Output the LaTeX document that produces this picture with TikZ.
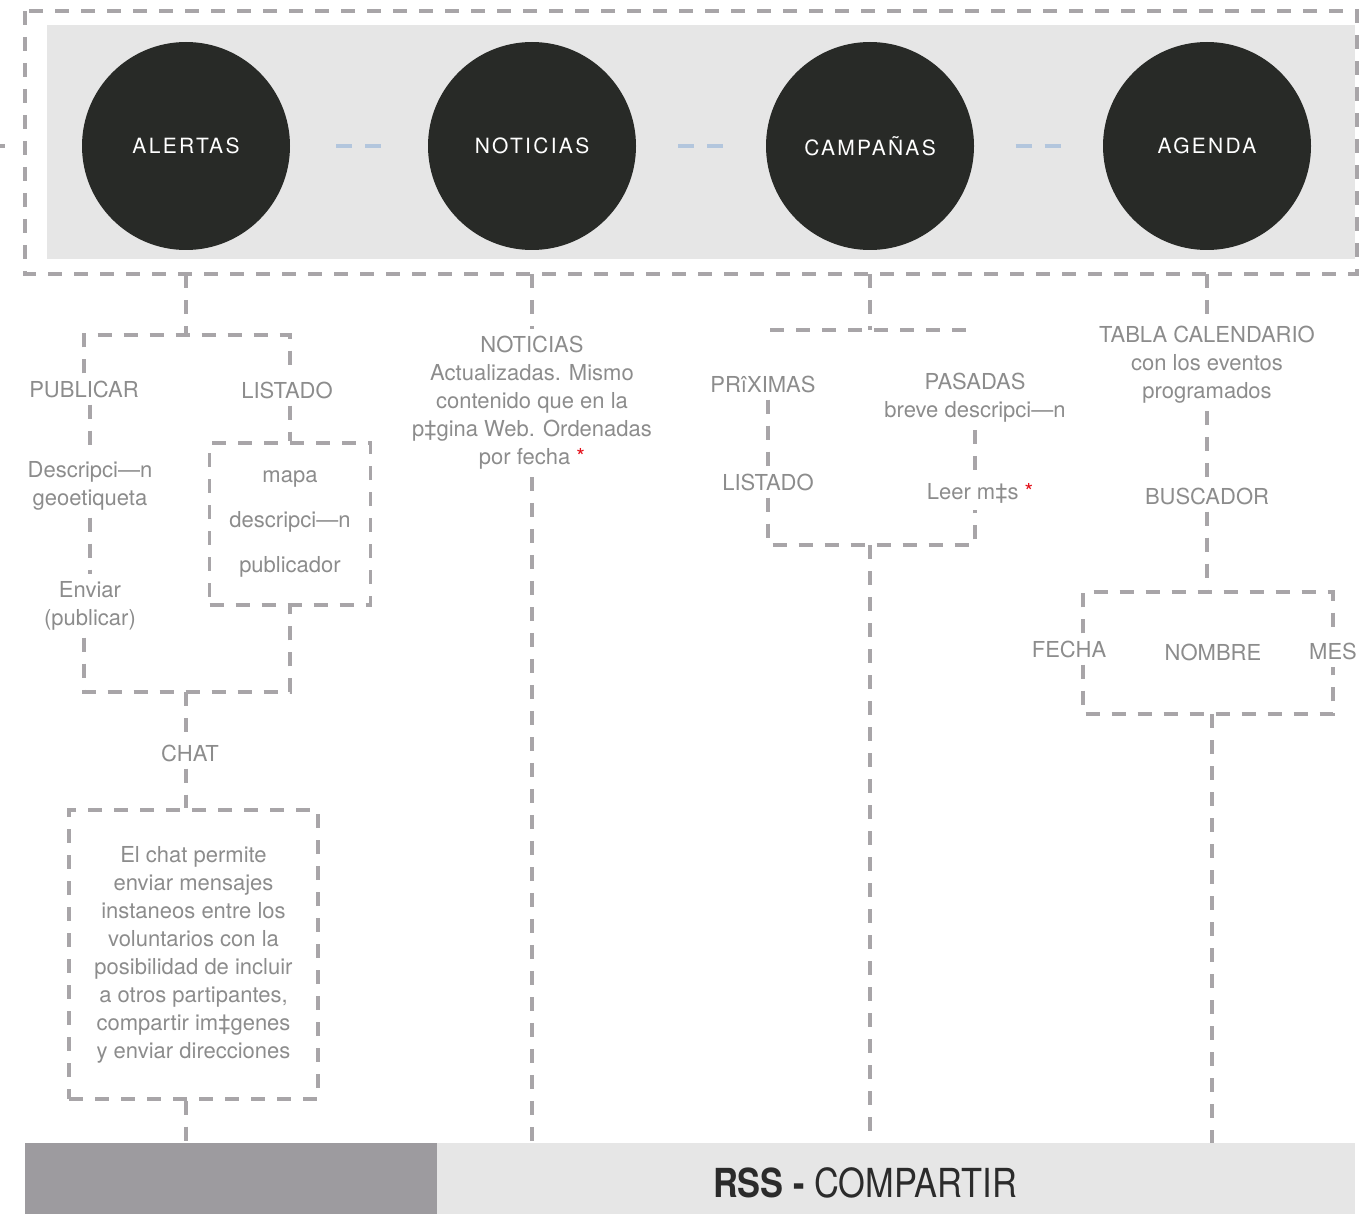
\documentclass[tikz,border=0pt]{standalone}
\usepackage{fontspec}
\usepackage{graphicx}
\setmainfont{TeX Gyre Heros}
\usetikzlibrary{positioning,calc}
\definecolor{linegray}{HTML}{A8A5A8}
\definecolor{textgray}{HTML}{8C8C8C}
\definecolor{bandgray}{HTML}{E6E6E6}
\definecolor{bardark}{HTML}{9D9B9F}
\definecolor{hubdark}{HTML}{282A27}
\definecolor{hubline}{HTML}{B3C6DD}
\definecolor{rssdark}{HTML}{2B2B2B}
\definecolor{starred}{HTML}{E3101A}
\newcommand{\redstar}{\textcolor{starred}{*}}

\begin{document}
\begin{tikzpicture}[x=1pt,y=1pt,line cap=butt,every node/.style={inner sep=1pt},
  link/.style={draw=linegray,line width=3.2pt,dash pattern=on 14pt off 12pt},
  hubdash/.style={draw=hubline,line width=3.5pt,dash pattern=on 16pt off 13pt},
  lbl/.style={text=textgray,font=\fontsize{22}{28}\selectfont,align=center,inner sep=7pt},
  hub/.style={circle,fill=hubdark,minimum size=208pt,inner sep=0pt,text=white,
    font=\fontsize{21}{25}\selectfont\addfontfeature{LetterSpace=11}},
  framebox/.style={lbl,link,rectangle,inner sep=1pt}]
  \useasboundingbox (0,0) rectangle (1370,-1214);
  % top band with the four sections
  \fill[bandgray] (47,-25) rectangle (1355,-259);
  \draw[link] (25,-11) rectangle (1357,-274);
  \coordinate (leftEnd) at (0,-146);
  \coordinate (leftStub) at (5,-146);
  \draw[linegray,line width=3.2pt] (leftEnd) -- (leftStub);
  \coordinate (topBase) at (0,-274);
  \foreach \nm/\xx/\txt in {alertas/186/ALERTAS,noticias/532/NOTICIAS,campanas/870/CAMPAÑAS,agenda/1207/AGENDA}
    \node[hub] (\nm) at (\xx,-146) {\txt};
  \foreach \a/\b in {alertas/noticias,noticias/campanas,campanas/agenda}
    \draw[hubdash] ($(\a.east)!0.5!(\b.west)+(-23,0)$) -- ($(\a.east)!0.5!(\b.west)+(23,0)$);

  % RSS bar
  \node[fill=bardark,minimum width=412pt,minimum height=71pt,anchor=north west,inner sep=0pt] (rssside) at (25,-1143) {};
  \node[fill=bandgray,minimum width=918pt,minimum height=71pt,anchor=north west,inner sep=0pt] (rssbar) at (437,-1143) {};
  \node[font=\fontsize{40}{40}\selectfont,text=rssdark] (rss) at (865,-1183) {\scalebox{0.86}[1]{\textbf{RSS -} COMPARTIR}};

  % alertas
  \coordinate (aSplit) at (186,-335);
  \coordinate (aJoin) at (186,-692);
  \node[lbl] (publicar) at (84,-389) {PUBLICAR};
  \node[lbl] (listado) at (287,-390) {LISTADO};
  \node[lbl] (descr) at (90,-486) {Descripci—n\\geoetiqueta};
  \node[lbl] (enviar) at (90,-606) {Enviar\\(publicar)};
  \node[framebox,minimum width=161pt,minimum height=162pt,font=\fontsize{22}{45}\selectfont] (mapbox) at (290,-524) {mapa\\descripci—n\\publicador};
  \node[lbl] (chat) at (190,-753) {CHAT};
  \node[framebox,minimum width=249pt,minimum height=289pt] (chatbox) at (193.5,-954.5) {El chat permite\\enviar mensajes\\instaneos entre los\\voluntarios con la\\posibilidad de incluir\\a otros partipantes,\\compartir im‡genes\\y enviar direcciones};
  \draw[link] (alertas |- topBase) -- (aSplit);
  \draw[link] (publicar.north) -- (publicar.north |- aSplit) -- (mapbox.north |- aSplit) -- (mapbox.north |- listado.north);
  \draw[link] (descr.north |- publicar.south) -- (descr.north);
  \draw[link] (descr.south) -- (enviar.north);
  \draw[link] (enviar.south -| publicar) |- (aJoin) -| (mapbox.south);
  \draw[link] (mapbox.north |- listado.south) -- (mapbox.north);
  \draw[link] (aJoin) -- (chat.north -| aJoin);
  \draw[link] (chat.south -| aJoin) -- (chatbox.north -| aJoin);
  \draw[link] (chatbox.south -| aJoin) -- (aJoin |- rssside.north);

  % noticias
  \node[lbl] (notitext) at (532,-403) {NOTICIAS\\Actualizadas. Mismo\\contenido que en la\\p‡gina Web. Ordenadas\\por fecha \redstar};
  \draw[link] (noticias |- topBase) -- (notitext.north);
  \draw[link] (notitext.south) -- (notitext.south |- rssbar.north);

  % campanas
  \coordinate (cSplit) at (870,-330);
  \coordinate (cLeft) at (770,-330);
  \coordinate (cRight) at (972,-330);
  \coordinate (cJoin) at (870,-545);
  \node[lbl] (proximas) at (763,-384) {PRîXIMAS};
  \node[lbl] (pasadas) at (975,-398) {PASADAS\\breve descripci—n};
  \node[lbl] (listadoc) at (768,-482) {LISTADO};
  \node[lbl] (leer) at (980,-493) {Leer m‡s \redstar};
  \draw[link] (campanas |- topBase) -- (cSplit);
  \draw[link] (cLeft) -- (cRight);
  \draw[link] (listadoc.north |- proximas.south) -- (listadoc.north);
  \draw[link] (listadoc.south) |- (cJoin) -| (pasadas.south |- leer.south);
  \draw[link] (pasadas.south) -- (pasadas.south |- leer.north);
  \draw[link] (cJoin) -- (cJoin |- rssbar.north);

  % agenda
  \coordinate (gTL) at (1083,-592);
  \coordinate (gTR) at (1333,-592);
  \coordinate (gBL) at (1083,-714);
  \coordinate (gBR) at (1333,-714);
  \coordinate (gJoin) at (1212,-714);
  \node[lbl] (tabla) at (1207,-365) {TABLA CALENDARIO\\con los eventos\\programados};
  \node[lbl] (buscador) at (1207,-496) {BUSCADOR};
  \node[lbl] (fecha) at (1069,-649) {FECHA};
  \node[lbl] (nombre) at (1213,-652) {NOMBRE};
  \node[lbl] (mes) at (1333,-651) {MES};
  \draw[link] (tabla.north |- topBase) -- (tabla.north);
  \draw[link] (tabla.south) -- (buscador.north);
  \draw[link] (buscador.south) -- (buscador.south |- gTL);
  \draw[link] (gTL |- fecha.north) -- (gTL) -- (gTR) -- (gTR |- mes.north);
  \draw[link] (gBL |- fecha.south) -- (gBL) -- (gBR) -- (gBR |- mes.south);
  \draw[link] (gJoin) -- (gJoin |- rssbar.north);
\end{tikzpicture}
\end{document}
